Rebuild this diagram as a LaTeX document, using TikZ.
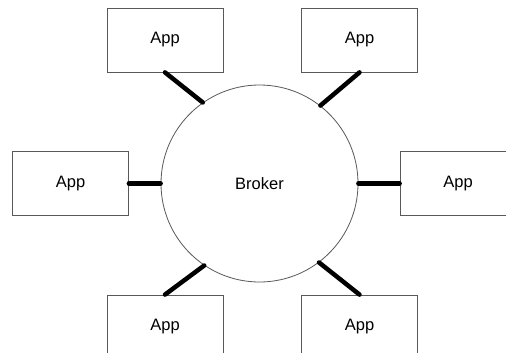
\documentclass[tikz,border=0pt]{standalone}
\usepackage{fontspec}
\setmainfont{Liberation Sans}
\begin{document}
\begin{tikzpicture}[x=1pt,y=-1pt,
  app/.style={draw=black!65, line width=0.8pt, minimum width=116pt, minimum height=64pt, inner sep=0pt, font=\fontsize{16.5}{19}\selectfont},
  broker/.style={circle, draw=black!65, line width=0.8pt, minimum size=197pt, inner sep=0pt, font=\fontsize{16.5}{19}\selectfont},
  link/.style={line width=4.5pt, line cap=round, black}]
\useasboundingbox (0,0) rectangle (506,353);
\clip (0,0) rectangle (506,353);
\fill[white] (0,0) rectangle (506,353);
\node[broker] (b) at (259.5,183.5) {Broker};
\node[app] (tl) at (165,40) {App};
\node[app] (tr) at (359.5,40) {App};
\node[app] (l) at (70.5,183.5) {App};
\node[app] (r) at (458,183.5) {App};
\node[app] (bl) at (165,327) {App};
\node[app] (br) at (359.5,327) {App};
\draw[link] (tl.south) -- (b.125);
\draw[link] (tr.south) -- (b.52);
\draw[link] (l.east) -- (b.west);
\draw[link] (r.west) -- (b.east);
\draw[link] (bl.north) -- (b.236);
\draw[link] (br.north) -- (b.307);
\end{tikzpicture}
\end{document}
